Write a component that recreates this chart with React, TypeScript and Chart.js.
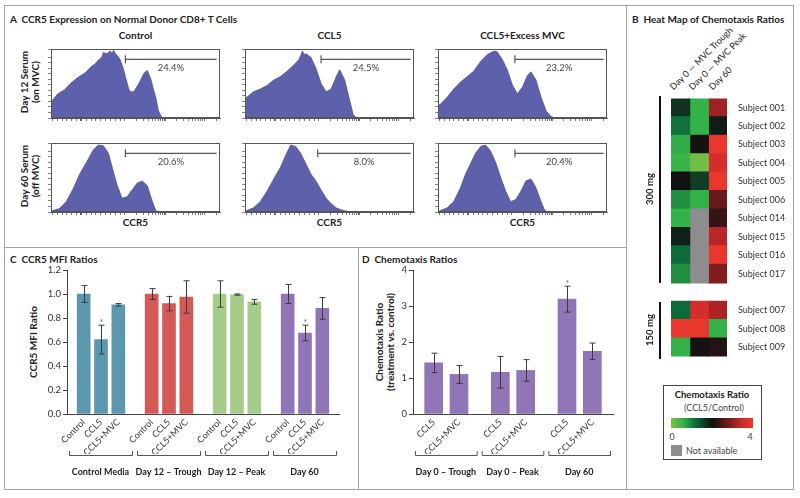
import React, { useEffect, useRef } from 'react';
import { Chart, registerables } from 'chart.js';
Chart.register(...registerables);

const FONT = 'Lato, "Open Sans", Arial, sans-serif';
const TXT = '#222';

// ---------------- Panel A : CCR5 histograms ----------------
const histColTitles = ['Control', 'CCL5', 'CCL5+Excess MVC'];
const histRowTitles = ['Day 12 Serum\n(on MVC)', 'Day 60 Serum\n(off MVC)'];
const histAxisLabel = 'CCR5';
// channel (0-100 of display range) and relative count (0-100)
const h1x = [0, 4, 8, 12, 16, 20, 24, 26, 28, 30, 31, 33, 35, 36, 37, 38, 40, 41, 43, 44, 46, 47, 49, 52, 55, 57, 59, 61, 62, 63.5, 65.5, 67.5, 100];
const h1y = [23, 35, 41, 51, 59, 65, 75, 78, 84, 88, 95, 93, 97, 94, 98, 94, 88, 84, 70, 60, 42, 38, 38, 50, 65, 69, 57, 38, 30, 11, 1, 0, 0];
const h2x = [0, 1, 5, 9, 13, 17, 21, 25, 29, 32, 34, 35, 36, 39, 42, 45, 48, 51, 54, 56, 59, 62, 64, 66, 100];
const h2y = [28, 30, 38, 42, 47, 55, 60, 68, 77, 85, 97, 92, 93, 88, 72, 50, 38, 42, 60, 70, 55, 25, 5, 0, 0];
const h3x = [0, 1.4, 5.4, 9.3, 13.3, 17.3, 21.2, 25.2, 29.2, 33.1, 35, 38, 41, 44, 47, 50, 53, 55, 58, 61, 64, 67, 69, 100];
const h3y = [18, 20, 30, 42, 52, 60, 68, 82, 92, 97, 96, 85, 70, 48, 35, 45, 62, 67, 55, 30, 10, 2, 0, 0];
const h4x = [0, 1, 5, 9, 13, 17, 21, 25, 28, 31, 34, 36.5, 39, 42, 45, 48, 51, 54, 57, 60, 62, 64, 100];
const h4y = [0, 2, 5, 15, 33, 55, 72, 90, 97, 96, 85, 62, 40, 20, 22, 32, 42, 45, 38, 15, 2, 0, 0];
const h5x = [0, 1, 5, 9, 13, 17, 21, 24, 27, 30, 33, 36, 39, 42, 45, 48, 51, 54, 57, 60.5, 64, 100];
const h5y = [0, 2, 6, 15, 30, 48, 65, 82, 97, 95, 85, 70, 55, 45, 32, 20, 12, 6, 3, 1, 0, 0];
const h6x = [0, 1.4, 5.4, 9.3, 13.3, 16.3, 19.2, 22.2, 25.2, 28.2, 31.2, 34.1, 37.1, 40.1, 43, 46, 49, 52, 55, 58, 61, 63, 65, 100];
const h6y = [0, 2, 6, 15, 35, 55, 70, 85, 95, 97, 88, 72, 50, 30, 15, 18, 30, 45, 48, 35, 15, 3, 0, 0];
const histXs = [h1x, h2x, h3x, h4x, h5x, h6x];
const histYs = [h1y, h2y, h3y, h4y, h5y, h6y];
const gatePercents = ['24.4%', '24.5%', '23.2%', '20.6%', '8.0%', '20.4%'];
const gateStarts = [44, 45, 45.5, 44, 43, 45.5];
const gateEnd = 98;
const gateLevel = 85;
const gateLabelLevel = 73;

// ---------------- Panel B : heat map ----------------
const heatColumns = ['Day 0 \u2014 MVC Trough', 'Day 0 \u2014 MVC Peak', 'Day 60'];
const subjects300 = ['Subject 001', 'Subject 002', 'Subject 003', 'Subject 004', 'Subject 005', 'Subject 006', 'Subject 014', 'Subject 015', 'Subject 016', 'Subject 017'];
const subjects150 = ['Subject 007', 'Subject 008', 'Subject 009'];
const trough300 = [1.7, 1.15, 0.65, 0.55, 2.0, 0.9, 0.6, 1.85, 1.2, 0.9];
const peak300 = [0.6, 0.6, 2.05, 0.1, 1.6, 0.6, null, null, null, null];
const day60_300 = [3.1, 1.9, 3.9, 3.6, 3.9, 2.7, 2.3, 3.3, 3.9, 2.9];
const trough150 = [1.2, 3.9, 0.6];
const peak150 = [3.6, 3.9, 2.05];
const day60_150 = [3.2, 0.6, 2.15];
const doseLabels = ['300 mg', '150 mg'];
const heatStops: [number, string][] = [[0, '#7cc243'], [0.6, '#34b24a'], [1.2, '#0d6b39'], [2, '#111111'], [2.8, '#741a1b'], [3.4, '#c8272a'], [4, '#ee3a2c']];
const naColor = '#8d8d8d';

// ---------------- Panel C : CCR5 MFI ratios ----------------
const mfiGroups = ['Control Media', 'Day 12 \u2013 Trough', 'Day 12 \u2013 Peak', 'Day 60'];
const mfiConditions = ['Control', 'CCL5', 'CCL5+MVC'];
const mfiValues = [[1.0, 0.62, 0.91], [1.0, 0.92, 0.975], [1.0, 0.995, 0.935], [1.0, 0.675, 0.88]];
const mfiErrors = [[0.07, 0.12, 0.01], [0.045, 0.06, 0.135], [0.11, 0.005, 0.02], [0.08, 0.065, 0.09]];
const mfiSignificant = [[false, true, false], [false, false, false], [false, false, false], [false, true, false]];
const mfiColors = ['#5b98ae', '#d35a56', '#a6cc89', '#9176b7'];

// ---------------- Panel D : chemotaxis ratios ----------------
const chemoGroups = ['Day 0 \u2013 Trough', 'Day 0 \u2013 Peak', 'Day 60'];
const chemoConditions = ['CCL5', 'CCL5+MVC'];
const chemoValues = [[1.42, 1.10], [1.16, 1.21], [3.19, 1.74]];
const chemoErrors = [[0.27, 0.25], [0.44, 0.30], [0.36, 0.23]];
const chemoSignificant = [[false, false], [false, false], [true, false]];
const chemoColor = '#9176b7';

// ---------------- helpers ----------------
function hexToRgb(h: string) {
  const n = parseInt(h.slice(1), 16);
  return [(n >> 16) & 255, (n >> 8) & 255, n & 255];
}
function heatColor(v: number) {
  for (let i = 0; i < heatStops.length - 1; i++) {
    const [a, ca] = heatStops[i];
    const [b, cb] = heatStops[i + 1];
    if (v <= b || i === heatStops.length - 2) {
      const t = Math.max(0, Math.min(1, (v - a) / (b - a)));
      const A = hexToRgb(ca), B = hexToRgb(cb);
      const c = A.map((x, k) => Math.round(x + (B[k] - x) * t));
      return `rgb(${c[0]},${c[1]},${c[2]})`;
    }
  }
  return heatStops[0][1];
}

const histTicks: number[] = (() => {
  const t: number[] = [];
  for (let k = 0; k <= 15; k++) t.push(0.8 + 2.86 * k);
  for (let d = 0; d < 2; d++) for (let m = 2; m <= 10; m++) t.push(43.7 + 23.5 * (d + Math.log10(m)));
  t.push(90.7 + 23.5 * Math.log10(2));
  return t;
})();

const baseOpts = { animation: false as const, responsive: false, events: [] as any[] };

function histConfig(i: number): any {
  const pts = histXs[i].map((x, k) => ({ x, y: histYs[i][k] }));
  const gate = {
    id: 'gate' + i,
    afterDatasetsDraw(chart: any) {
      const { ctx, chartArea: a, scales: { x, y } } = chart;
      ctx.save();
      ctx.strokeStyle = '#555';
      ctx.lineWidth = 1;
      ctx.strokeRect(a.left + 0.5, a.top + 0.5, a.right - a.left - 1, a.bottom - a.top - 1);
      const x0 = x.getPixelForValue(gateStarts[i]);
      const x1 = x.getPixelForValue(gateEnd);
      const gy = y.getPixelForValue(gateLevel);
      ctx.lineWidth = 1.2;
      ctx.beginPath();
      ctx.moveTo(x0, gy); ctx.lineTo(x1, gy);
      ctx.moveTo(x0, gy - 4); ctx.lineTo(x0, gy + 4);
      ctx.stroke();
      ctx.fillStyle = '#444';
      ctx.font = `9.5px ${FONT}`;
      ctx.textAlign = 'center';
      ctx.textBaseline = 'middle';
      ctx.fillText(gatePercents[i], x.getPixelForValue((gateStarts[i] + gateEnd) / 2), y.getPixelForValue(gateLabelLevel));
      ctx.restore();
    },
  };
  return {
    type: 'line',
    data: { datasets: [{ data: pts, fill: 'origin', backgroundColor: '#5d60aa', borderColor: '#50539c', borderWidth: 0.8, pointRadius: 0, tension: 0 }] },
    options: {
      ...baseOpts,
      layout: { padding: { left: 0, top: 2, right: 4, bottom: 0 } },
      plugins: { legend: { display: false }, tooltip: { enabled: false } },
      scales: {
        x: {
          type: 'linear', min: 0, max: 100,
          afterBuildTicks: (s: any) => { s.ticks = histTicks.map((v) => ({ value: v })); },
          afterFit: (s: any) => { s.height = 5; },
          ticks: { display: false },
          grid: { drawOnChartArea: false, tickLength: 3, color: '#555', lineWidth: (c: any) => (c.index === 6 || c.index === 24 ? 1.8 : 0.8) },
          border: { color: '#555', width: 1 },
        },
        y: {
          min: 0, max: 100,
          afterFit: (s: any) => { s.width = 4; },
          ticks: { display: false, stepSize: 8 },
          grid: { drawOnChartArea: false, tickLength: 3, color: '#666', lineWidth: 0.8 },
          border: { color: '#555', width: 1 },
        },
      },
    },
    plugins: [gate],
  };
}

function heatConfig(): any {
  const GAP = 'gap';
  const cols = [
    [...trough300, GAP, ...trough150],
    [...peak300, GAP, ...peak150],
    [...day60_300, GAP, ...day60_150],
  ];
  const labels = [...subjects300, '', ...subjects150];
  return {
    type: 'bar',
    data: {
      labels,
      datasets: cols.map((col, c) => ({
        label: heatColumns[c],
        data: col.map((v) => (v === GAP ? null : 1)),
        backgroundColor: col.map((v) => (v === GAP ? 'rgba(0,0,0,0)' : v === null ? naColor : heatColor(v as number))),
        borderWidth: 0,
        barPercentage: 1,
        categoryPercentage: 1,
        inflateAmount: 0.6,
      })),
    },
    options: {
      ...baseOpts,
      indexAxis: 'y',
      layout: { padding: { left: 11, top: 6.7, right: 0, bottom: 6 } },
      plugins: { legend: { display: false }, tooltip: { enabled: false } },
      scales: {
        x: { type: 'linear', stacked: true, min: 0, max: 3, display: false },
        y: {
          stacked: true, position: 'right',
          afterFit: (s: any) => { s.width = 63; },
          grid: { display: false },
          border: { display: false },
          ticks: { padding: 3, color: '#333', font: { family: FONT, size: 9 } },
        },
      },
    },
  };
}

function barAnnotations(id: string, values: number[][], errors: number[][], sig: boolean[][], groups: string[]) {
  return {
    id,
    afterDatasetsDraw(chart: any) {
      const { ctx, chartArea: a, scales: { y } } = chart;
      const meta = chart.getDatasetMeta(0);
      ctx.save();
      let k = 0;
      values.forEach((gv, g) =>
        gv.forEach((v, j) => {
          const bar = meta.data[k++];
          const px = Math.round(bar.x) + 0.5;
          const top = y.getPixelForValue(v + errors[g][j]);
          const bot = y.getPixelForValue(v - errors[g][j]);
          ctx.strokeStyle = '#3a3a3a';
          ctx.lineWidth = 1;
          ctx.beginPath();
          ctx.moveTo(px, top); ctx.lineTo(px, bot);
          ctx.moveTo(px - 3, top); ctx.lineTo(px + 3, top);
          ctx.moveTo(px - 3, bot); ctx.lineTo(px + 3, bot);
          ctx.stroke();
          if (sig[g][j]) {
            ctx.fillStyle = '#777';
            ctx.font = `10px ${FONT}`;
            ctx.textAlign = 'center';
            ctx.textBaseline = 'alphabetic';
            ctx.fillText('*', px, top + 1);
          }
        })
      );
      const W = (a.right - a.left) / groups.length;
      const by = a.bottom + 41;
      groups.forEach((name, g) => {
        const l = a.left + g * W + 2;
        const r = a.left + (g + 1) * W - 3;
        ctx.strokeStyle = '#555';
        ctx.lineWidth = 1;
        ctx.beginPath();
        ctx.moveTo(l + 0.5, by - 4); ctx.lineTo(l + 0.5, by + 0.5); ctx.lineTo(r + 0.5, by + 0.5); ctx.lineTo(r + 0.5, by - 4);
        ctx.stroke();
        ctx.fillStyle = TXT;
        ctx.font = `bold 9px ${FONT}`;
        ctx.textAlign = 'center';
        ctx.textBaseline = 'middle';
        ctx.fillText(name, (l + r) / 2, by + 17);
      });
      ctx.restore();
    },
  };
}

function groupedBarConfig(opts: {
  values: number[][]; errors: number[][]; sig: boolean[][]; groups: string[]; conditions: string[];
  colors: string[]; spacing: number; thickness: number; yMax: number; yStep: number; yDigits: number;
  yWidth: number; padRight: number; id: string;
}): any {
  const pts: { x: number; y: number }[] = [];
  const cols: string[] = [];
  const n = opts.conditions.length;
  opts.values.forEach((gv, g) =>
    gv.forEach((v, j) => {
      pts.push({ x: g + 0.5 + (j - (n - 1) / 2) * opts.spacing, y: v });
      cols.push(opts.colors[g]);
    })
  );
  return {
    type: 'bar',
    data: { datasets: [{ data: pts, backgroundColor: cols, barThickness: opts.thickness, borderWidth: 0 }] },
    options: {
      ...baseOpts,
      layout: { padding: { left: 0, top: 20, right: opts.padRight, bottom: 31 } },
      plugins: { legend: { display: false }, tooltip: { enabled: false } },
      scales: {
        x: {
          type: 'linear', min: 0, max: opts.groups.length, offset: false,
          afterBuildTicks: (s: any) => { s.ticks = pts.map((p) => ({ value: p.x })); },
          afterFit: (s: any) => { s.height = 40; },
          ticks: {
            autoSkip: false, minRotation: 45, maxRotation: 45, padding: 3, color: '#333',
            font: { family: FONT, size: 9 },
            callback: (_v: any, i: number) => opts.conditions[i % n],
          },
          grid: { display: true, drawOnChartArea: false, drawTicks: false, offset: false },
          border: { color: '#444', width: 1 },
        },
        y: {
          min: 0, max: opts.yMax,
          afterFit: (s: any) => { s.width = opts.yWidth; },
          ticks: { stepSize: opts.yStep, padding: 2, color: '#333', font: { family: FONT, size: 9.5 }, callback: (v: any) => Number(v).toFixed(opts.yDigits) },
          grid: { drawOnChartArea: false, tickLength: 4, color: '#444' },
          border: { color: '#444', width: 1 },
        },
      },
    },
    plugins: [barAnnotations(opts.id, opts.values, opts.errors, opts.sig, opts.groups)],
  };
}

function ChartCanvas(props: { left: number; top: number; width: number; height: number; make: () => any }) {
  const ref = useRef<HTMLCanvasElement>(null);
  useEffect(() => {
    const chart = new Chart(ref.current as HTMLCanvasElement, props.make());
    return () => chart.destroy();
  }, []);
  return (
    <canvas
      ref={ref}
      width={props.width}
      height={props.height}
      style={{ position: 'absolute', left: props.left, top: props.top, width: props.width, height: props.height }}
    />
  );
}

function Label(p: { x: number; y: number; text: string; size?: number; bold?: boolean; anchor?: 'center' | 'left'; rotate?: number; color?: string; lh?: number }) {
  const tx = p.anchor === 'left' ? '0' : '-50%';
  return (
    <div
      style={{
        position: 'absolute', left: p.x, top: p.y,
        transform: `translate(${tx},-50%) rotate(${p.rotate || 0}deg)`,
        fontFamily: FONT, fontSize: p.size || 10, fontWeight: p.bold ? 700 : 400,
        color: p.color || TXT, whiteSpace: 'pre', lineHeight: `${p.lh || 11}px`, textAlign: 'center',
      }}
    >
      {p.text}
    </div>
  );
}

const FRAME = '#a3a3a3';
const boxLefts = [51, 245, 438];
const boxTops = [49, 143];
const BOX_W = 169;
const BOX_H = 69;

export default function App() {
  const legendGradient = `linear-gradient(to right, ${heatStops.map(([v, c]) => `${c} ${(v / 4) * 100}%`).join(', ')})`;
  return (
    <div style={{ position: 'fixed', left: 0, top: 0, width: 800, height: 498, background: '#fff', overflow: 'hidden', fontFamily: FONT }}>
      {/* frame */}
      <div style={{ position: 'absolute', left: 4, top: 5, width: 790, height: 485, border: `1.5px solid ${FRAME}`, boxSizing: 'border-box' }} />
      <div style={{ position: 'absolute', left: 4, top: 246.5, width: 622, height: 1.5, background: FRAME }} />
      <div style={{ position: 'absolute', left: 625.5, top: 5, width: 1.5, height: 485, background: FRAME }} />
      <div style={{ position: 'absolute', left: 357.5, top: 247, width: 1.5, height: 243, background: FRAME }} />

      {/* Panel A */}
      <Label x={10} y={19} anchor="left" bold size={10} text={'A  CCR5 Expression on Normal Donor CD8+ T Cells'} />
      {histColTitles.map((t, c) => (
        <Label key={'ct' + c} x={boxLefts[c] + BOX_W / 2} y={35} bold size={10} text={t} />
      ))}
      {histRowTitles.map((t, r) => (
        <Label key={'rt' + r} x={30} y={boxTops[r] + BOX_H / 2 - 2} bold size={10} rotate={-90} text={t} />
      ))}
      {boxLefts.map((l, c) => (
        <Label key={'ax' + c} x={l + BOX_W / 2} y={222} bold size={10} text={histAxisLabel} />
      ))}
      {[0, 1].map((r) =>
        [0, 1, 2].map((c) => {
          const i = r * 3 + c;
          return (
            <ChartCanvas key={'h' + i} left={boxLefts[c] - 4} top={boxTops[r] - 2} width={BOX_W + 8} height={BOX_H + 7} make={() => histConfig(i)} />
          );
        })
      )}

      {/* Panel B */}
      <Label x={632} y={19} anchor="left" bold size={10} text={'B  Heat Map of Chemotaxis Ratios'} />
      {heatColumns.map((t, c) => (
        <div
          key={'hc' + c}
          style={{
            position: 'absolute', left: 675 + c * 19.3, top: 81, lineHeight: '11px', whiteSpace: 'nowrap',
            fontFamily: FONT, fontSize: 9, color: TXT, transformOrigin: '0% 100%', transform: 'rotate(-45deg)',
          }}
        >
          {t}
        </div>
      ))}
      <ChartCanvas left={660} top={90} width={130} height={275} make={heatConfig} />
      <div style={{ position: 'absolute', left: 659, top: 96, width: 1.5, height: 187, background: '#111' }} />
      <div style={{ position: 'absolute', left: 659, top: 302, width: 1.5, height: 57, background: '#111' }} />
      <Label x={649} y={189} bold size={9.5} rotate={-90} text={doseLabels[0]} />
      <Label x={649} y={330} bold size={9.5} rotate={-90} text={doseLabels[1]} />
      {/* legend */}
      <div style={{ position: 'absolute', left: 663, top: 385, width: 99, height: 75, border: '1.2px solid #444', boxSizing: 'border-box' }} />
      <Label x={712} y={394} bold size={9.5} text={'Chemotaxis Ratio'} />
      <Label x={714} y={407} size={9} color="#444" text={'(CCL5/Control)'} />
      <div style={{ position: 'absolute', left: 671, top: 418, width: 82, height: 10, background: legendGradient }} />
      <Label x={672} y={436} size={9} color="#444" text={'0'} />
      <Label x={750} y={436} size={9} color="#444" text={'4'} />
      <div style={{ position: 'absolute', left: 671, top: 445, width: 11, height: 11, background: naColor }} />
      <Label x={686} y={450} anchor="left" size={9} color="#444" text={'Not available'} />

      {/* Panel C */}
      <Label x={10} y={259} anchor="left" bold size={10} text={'C  CCR5 MFI Ratios'} />
      <Label x={33} y={342} bold size={10} rotate={-90} text={'CCR5 MFI Ratio'} />
      <ChartCanvas
        left={4} top={250} width={354} height={235}
        make={() =>
          groupedBarConfig({
            values: mfiValues, errors: mfiErrors, sig: mfiSignificant, groups: mfiGroups, conditions: mfiConditions,
            colors: mfiColors, spacing: 0.255, thickness: 13, yMax: 1.2, yStep: 0.2, yDigits: 1, yWidth: 63, padRight: 19, id: 'mfiAnn',
          })
        }
      />

      {/* Panel D */}
      <Label x={362} y={259} anchor="left" bold size={10} text={'D  Chemotaxis Ratios'} />
      <Label x={385} y={342} bold size={10} rotate={-90} text={'Chemotaxis Ratio\n(treatment vs. control)'} />
      <ChartCanvas
        left={358} top={250} width={268} height={235}
        make={() =>
          groupedBarConfig({
            values: chemoValues, errors: chemoErrors, sig: chemoSignificant, groups: chemoGroups, conditions: chemoConditions,
            colors: chemoGroups.map(() => chemoColor), spacing: 0.38, thickness: 18, yMax: 4, yStep: 1, yDigits: 0, yWidth: 55, padRight: 13, id: 'chemoAnn',
          })
        }
      />
    </div>
  );
}
